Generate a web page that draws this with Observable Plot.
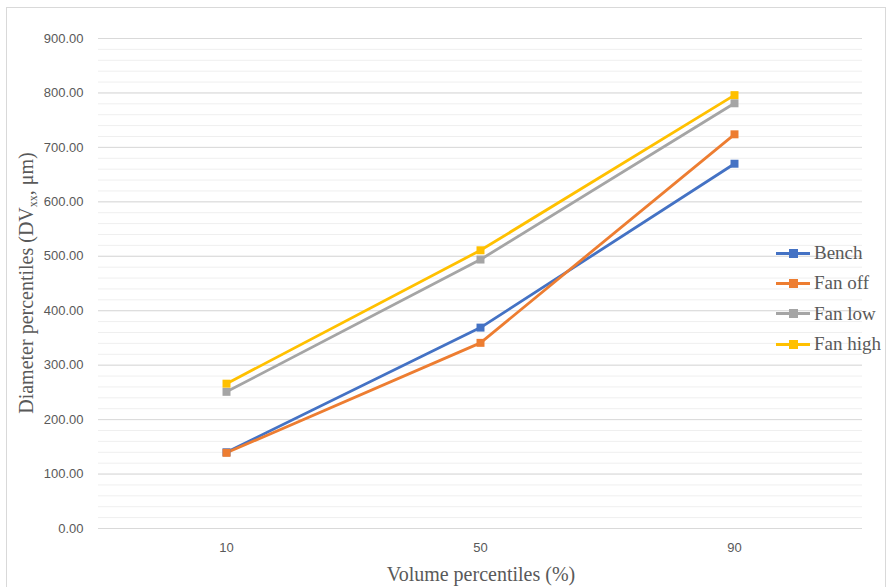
<!DOCTYPE html>
<html>
<head>
<meta charset="utf-8">
<script src="https://cdn.jsdelivr.net/npm/d3@7"></script>
<script src="https://cdn.jsdelivr.net/npm/@observablehq/plot@0.6"></script>
<style>
  html, body { margin: 0; padding: 0; background: #fff; }
  #wrap { position: relative; width: 890px; height: 587px; overflow: hidden; }
  #frame { position: absolute; left: 6px; top: 7px; width: 880px; height: 600px; border: 1px solid #d9d9d9; box-sizing: border-box; pointer-events: none; }
  #legend { position: absolute; left: 776px; top: 238px; font-family: "Liberation Serif", "Times New Roman", serif; font-size: 19px; color: #595959; }
  .item { display: flex; align-items: center; height: 30.3px; }
  .sw { position: relative; width: 34px; height: 3px; margin-right: 4px; }
  .sw span { position: absolute; left: 13px; top: -3px; width: 9px; height: 9px; }
</style>
</head>
<body>
<div id="wrap">
  <div id="chart"></div>
  <div id="legend"></div>
  <div id="frame"></div>
</div>
<script>
const categories = ["10", "50", "90"];
const seriesNames = ["Bench", "Fan off", "Fan low", "Fan high"];
const bench   = [140, 369, 670];
const fanOff  = [139, 341, 724];
const fanLow  = [251, 494, 781];
const fanHigh = [266, 511, 796];
const colors = ["#4472C4", "#ED7D31", "#A5A5A5", "#FFC000"];
const yTicks = [0, 100, 200, 300, 400, 500, 600, 700, 800, 900];
const yMinor = d3.range(0, 901, 20);

const allSeries = [bench, fanOff, fanLow, fanHigh];
const data = [];
allSeries.forEach((vals, si) => {
  vals.forEach((v, i) => data.push({series: seriesNames[si], x: categories[i], y: v}));
});

const plot = Plot.plot({
  width: 890,
  height: 587,
  marginLeft: 98,
  marginRight: 28,
  marginTop: 38,
  marginBottom: 59,
  style: { fontFamily: "'Liberation Sans', Arial, sans-serif", fontSize: "13px", color: "#595959", background: "transparent" },
  x: { type: "point", domain: categories, padding: 0.5, label: null },
  y: { domain: [0, 900], label: null },
  color: { domain: seriesNames, range: colors },
  marks: [
    Plot.ruleY(yMinor, { stroke: "#efefef", strokeWidth: 1 }),
    Plot.ruleY(yTicks, { stroke: "#d9d9d9", strokeWidth: 1 }),
    Plot.axisY({ ticks: yTicks, tickFormat: d => d.toFixed(2), tickSize: 0, tickPadding: 15, label: null, fontSize: 13 }),
    Plot.axisX({ tickSize: 0, tickPadding: 14, label: null, fontSize: 13 }),
    Plot.line(data, { x: "x", y: "y", z: "series", stroke: "series", strokeWidth: 2.8 }),
    Plot.dot(data, { x: "x", y: "y", fill: "series", symbol: "square", r: 4.5, stroke: null })
  ]
});
document.getElementById("chart").appendChild(plot);

// axis titles
const svg = d3.select(plot);
svg.append("text")
  .attr("x", 481).attr("y", 581)
  .attr("text-anchor", "middle")
  .attr("font-family", "'Liberation Serif', 'Times New Roman', serif")
  .attr("font-size", 20).attr("fill", "#595959")
  .text("Volume percentiles (%)");

const yt = svg.append("text")
  .attr("transform", "translate(33,283) rotate(-90)")
  .attr("text-anchor", "middle")
  .attr("font-family", "'Liberation Serif', 'Times New Roman', serif")
  .attr("font-size", 20).attr("fill", "#595959");
yt.append("tspan").text("Diameter percentiles (DV");
yt.append("tspan").attr("font-size", 12).attr("dy", 4).text("xx");
yt.append("tspan").attr("dy", -4).text(", μm)");

// legend
const leg = d3.select("#legend");
seriesNames.forEach((name, i) => {
  const it = leg.append("div").attr("class", "item");
  const sw = it.append("div").attr("class", "sw").style("background", colors[i]);
  sw.append("span").style("background", colors[i]);
  it.append("div").text(name);
});
</script>
</body>
</html>
